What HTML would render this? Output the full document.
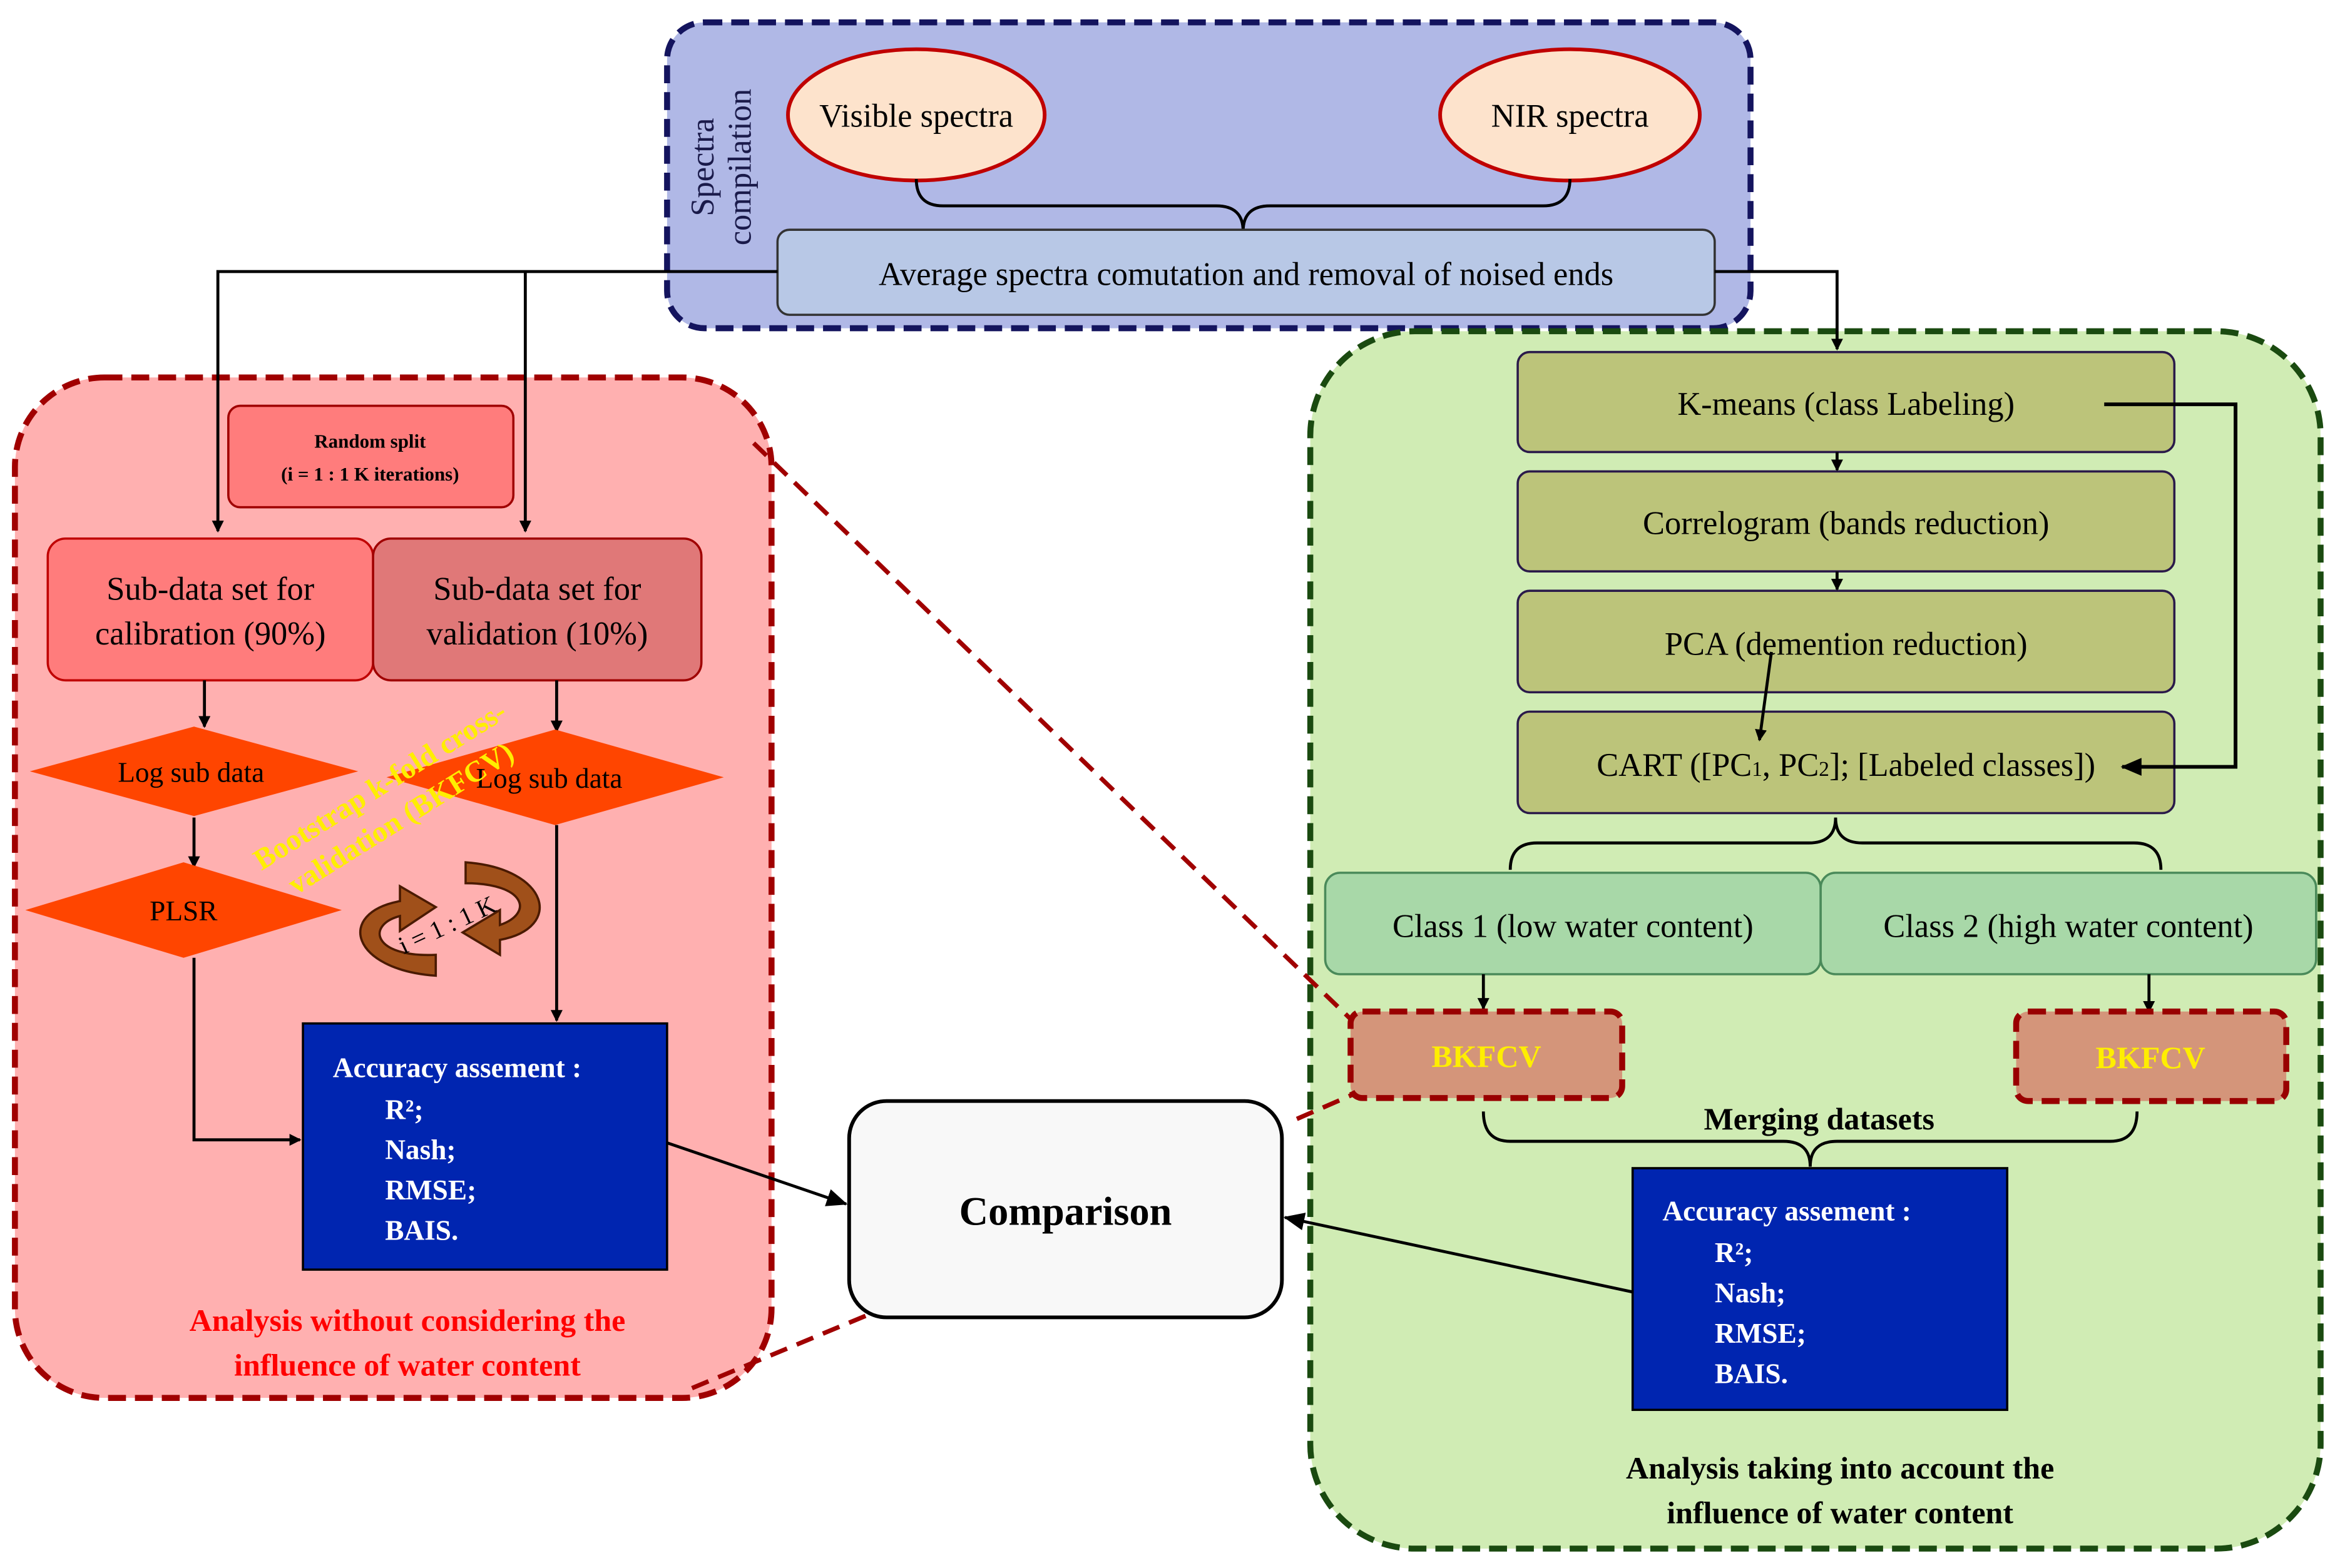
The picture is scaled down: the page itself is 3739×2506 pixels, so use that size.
<!DOCTYPE html>
<html><head><meta charset="utf-8"><style>html,body{margin:0;padding:0;background:#fff}svg{display:block}text{font-family:"Liberation Serif",serif}</style></head><body>
<svg width="3739" height="2506" viewBox="0 0 1568 1051" preserveAspectRatio="none" xmlns="http://www.w3.org/2000/svg">
<defs><marker id="a" markerWidth="8" markerHeight="8" refX="7" refY="4" orient="auto" markerUnits="userSpaceOnUse"><path d="M0,0L8,4L0,8z" fill="#000"/></marker>
<marker id="b" markerWidth="14" markerHeight="12" refX="13" refY="6" orient="auto" markerUnits="userSpaceOnUse"><path d="M0,0L14,6L0,12z" fill="#000"/></marker></defs>
<rect width="1568" height="1051" fill="#fff"/>
<!-- containers -->
<rect x="447" y="15" width="726" height="205" rx="25" fill="#b0b8e6" stroke="#14145e" stroke-width="4" stroke-dasharray="12,6"/>
<rect x="10" y="253" width="507" height="684" rx="60" fill="#ffb0b0" stroke="#a00000" stroke-width="4" stroke-dasharray="12,6"/>
<rect x="878" y="222" width="677" height="816" rx="70" fill="#d0ecb4" stroke="#1a4a10" stroke-width="4" stroke-dasharray="12,6"/>
<!-- top -->
<text transform="translate(478,112) rotate(-90)" text-anchor="middle" font-size="22" fill="#1a1a4a">Spectra</text>
<text transform="translate(503,112) rotate(-90)" text-anchor="middle" font-size="22" fill="#1a1a4a">compilation</text>
<ellipse cx="614" cy="77" rx="86" ry="44" fill="#fde3cc" stroke="#c00000" stroke-width="2.5"/>
<text x="614" y="85" text-anchor="middle" font-size="22">Visible spectra</text>
<ellipse cx="1052" cy="77" rx="87" ry="44" fill="#fde3cc" stroke="#c00000" stroke-width="2.5"/>
<text x="1052" y="85" text-anchor="middle" font-size="22">NIR spectra</text>
<path d="M614,120 Q614,138 632,138 L815,138 Q833,138 833,155 Q833,138 851,138 L1034,138 Q1052,138 1052,120" fill="none" stroke="#000" stroke-width="2"/>
<rect x="521" y="154" width="628" height="57" rx="8" fill="#b8c8e6" stroke="#333" stroke-width="1.5"/>
<text x="835" y="191" text-anchor="middle" font-size="22">Average spectra comutation and removal of noised ends</text>
<path d="M521,182 L146,182 L146,356" fill="none" stroke="#000" stroke-width="2" marker-end="url(#a)"/>
<path d="M352,182 L352,356" fill="none" stroke="#000" stroke-width="2" marker-end="url(#a)"/>
<path d="M1149,182 L1231,182 L1231,234" fill="none" stroke="#000" stroke-width="2" marker-end="url(#a)"/>
<!-- left -->
<rect x="153" y="272" width="191" height="68" rx="8" fill="#ff7c7c" stroke="#a00000" stroke-width="1.5"/>
<text x="248" y="300" text-anchor="middle" font-size="13" font-weight="bold">Random split</text>
<text x="248" y="322" text-anchor="middle" font-size="13" font-weight="bold">(i = 1 : 1 K iterations)</text>
<rect x="32" y="361" width="218" height="95" rx="12" fill="#ff7c7c" stroke="#c00000" stroke-width="1.5"/>
<text x="141" y="402" text-anchor="middle" font-size="22">Sub-data set for</text>
<text x="141" y="432" text-anchor="middle" font-size="22">calibration (90%)</text>
<rect x="250" y="361" width="220" height="95" rx="12" fill="#e07878" stroke="#a00000" stroke-width="1.5"/>
<text x="360" y="402" text-anchor="middle" font-size="22">Sub-data set for</text>
<text x="360" y="432" text-anchor="middle" font-size="22">validation (10%)</text>
<path d="M137,456 L137,487" stroke="#000" stroke-width="2" marker-end="url(#a)"/>
<path d="M373,456 L373,490" stroke="#000" stroke-width="2" marker-end="url(#a)"/>
<polygon points="20,517 130,487 240,517 130,547" fill="#ff4500"/>
<text x="128" y="524" text-anchor="middle" font-size="19">Log sub data</text>
<polygon points="259,521 372,489 485,521 372,553" fill="#ff4500"/>
<text x="368" y="528" text-anchor="middle" font-size="19">Log sub data</text>
<path d="M130,548 L130,581" stroke="#000" stroke-width="2" marker-end="url(#a)"/>
<polygon points="17,610 123,578 229,610 123,642" fill="#ff4500"/>
<text x="123" y="617" text-anchor="middle" font-size="19">PLSR</text>
<path d="M373,553 L373,684" stroke="#000" stroke-width="2" marker-end="url(#a)"/>
<path d="M130,642 L130,764 L201,764" fill="none" stroke="#000" stroke-width="2" marker-end="url(#a)"/>
<text transform="translate(258,532) rotate(-32)" text-anchor="middle" font-size="20" font-weight="bold" fill="#ffee00">Bootstrap k-fold cross-</text>
<text transform="translate(272,554) rotate(-32)" text-anchor="middle" font-size="20" font-weight="bold" fill="#ffee00">validation (BKFCV)</text>
<path d="M292,654 C235,650 225,612 268,604 L268,594 L292,608 L268,624 L268,614 C245,620 250,642 292,640 Z" fill="#a0501a" stroke="#4a1a00" stroke-width="1.5"/>
<path d="M312,578 C368,582 378,622 335,630 L335,640 L310,625 L335,610 L335,620 C358,612 352,592 312,592 Z" fill="#a0501a" stroke="#4a1a00" stroke-width="1.5"/>
<text transform="translate(302,625) rotate(-25)" text-anchor="middle" font-size="17">i = 1 : 1 K</text>
<rect x="203" y="686" width="244" height="165" fill="#0025b0" stroke="#000" stroke-width="1.5"/>
<g fill="#fff" font-size="19" font-weight="bold"><text x="223" y="722">Accuracy assement :</text><text x="258" y="750">R²;</text><text x="258" y="777">Nash;</text><text x="258" y="804">RMSE;</text><text x="258" y="831">BAIS.</text></g>
<text x="273" y="892" text-anchor="middle" font-size="21" font-weight="bold" fill="#ff0000">Analysis without considering the</text>
<text x="273" y="922" text-anchor="middle" font-size="21" font-weight="bold" fill="#ff0000">influence of water content</text>
<!-- dashed links -->
<g stroke="#a00000" stroke-width="3" stroke-dasharray="12,7" fill="none"><path d="M505,297 L905,683"/><path d="M869,750 L908,733"/><path d="M580,882 L460,932"/></g>
<!-- comparison -->
<rect x="569" y="738" width="290" height="145" rx="25" fill="#f8f8f8" stroke="#000" stroke-width="2.5"/>
<text x="714" y="821" text-anchor="middle" font-size="27" font-weight="bold">Comparison</text>
<path d="M447,766 L567,807" stroke="#000" stroke-width="2" marker-end="url(#b)"/>
<path d="M1094,866 L861,816" stroke="#000" stroke-width="2" marker-end="url(#b)"/>
<!-- right -->
<g fill="#bcc47a" stroke="#2a1a4a" stroke-width="1.5">
<rect x="1017" y="236" width="440" height="67" rx="8"/><rect x="1017" y="316" width="440" height="67" rx="8"/><rect x="1017" y="396" width="440" height="68" rx="8"/><rect x="1017" y="477" width="440" height="68" rx="8"/></g>
<g font-size="22" text-anchor="middle"><text x="1237" y="278">K-means (class Labeling)</text><text x="1237" y="358">Correlogram (bands reduction)</text><text x="1237" y="439">PCA (demention reduction)</text><text x="1237" y="520">CART ([PC<tspan font-size="14">1</tspan>, PC<tspan font-size="14">2</tspan>]; [Labeled classes])</text></g>
<path d="M1231,303 L1231,315" stroke="#000" stroke-width="2" marker-end="url(#a)"/>
<path d="M1231,383 L1231,395" stroke="#000" stroke-width="2" marker-end="url(#a)"/>
<path d="M1187,437 L1179,496" stroke="#000" stroke-width="2" marker-end="url(#a)"/>
<path d="M1410,271 L1498,271 L1498,514 L1422,514" fill="none" stroke="#000" stroke-width="2.5" marker-end="url(#b)"/>
<path d="M1012,583 Q1012,565 1030,565 L1212,565 Q1230,565 1230,548 Q1230,565 1248,565 L1430,565 Q1448,565 1448,583" fill="none" stroke="#000" stroke-width="2"/>
<rect x="888" y="585" width="332" height="68" rx="10" fill="#a8d8a8" stroke="#4a8a5a" stroke-width="1.5"/>
<rect x="1220" y="585" width="332" height="68" rx="10" fill="#a8d8a8" stroke="#4a8a5a" stroke-width="1.5"/>
<text x="1054" y="628" text-anchor="middle" font-size="22">Class 1 (low water content)</text>
<text x="1386" y="628" text-anchor="middle" font-size="22">Class 2 (high water content)</text>
<path d="M994,653 L994,676" stroke="#000" stroke-width="2" marker-end="url(#a)"/>
<path d="M1440,653 L1440,678" stroke="#000" stroke-width="2" marker-end="url(#a)"/>
<rect x="905" y="678" width="182" height="58" rx="8" fill="#d4957a" stroke="#900" stroke-width="4" stroke-dasharray="12,6"/>
<rect x="1351" y="678" width="181" height="60" rx="8" fill="#d4957a" stroke="#900" stroke-width="4" stroke-dasharray="12,6"/>
<text x="996" y="715" text-anchor="middle" font-size="21" font-weight="bold" fill="#ffee00">BKFCV</text>
<text x="1441" y="716" text-anchor="middle" font-size="21" font-weight="bold" fill="#ffee00">BKFCV</text>
<path d="M994,745 Q994,765 1012,765 L1195,765 Q1213,765 1213,782 Q1213,765 1231,765 L1414,765 Q1432,765 1432,745" fill="none" stroke="#000" stroke-width="2"/>
<text x="1219" y="757" text-anchor="middle" font-size="21" font-weight="bold">Merging datasets</text>
<rect x="1094" y="783" width="251" height="162" fill="#0025b0" stroke="#000" stroke-width="1.5"/>
<g fill="#fff" font-size="19" font-weight="bold"><text x="1114" y="818">Accuracy assement :</text><text x="1149" y="846">R²;</text><text x="1149" y="873">Nash;</text><text x="1149" y="900">RMSE;</text><text x="1149" y="927">BAIS.</text></g>
<text x="1233" y="991" text-anchor="middle" font-size="21" font-weight="bold">Analysis taking into account the</text>
<text x="1233" y="1021" text-anchor="middle" font-size="21" font-weight="bold">influence of water content</text>
</svg>
</body></html>
